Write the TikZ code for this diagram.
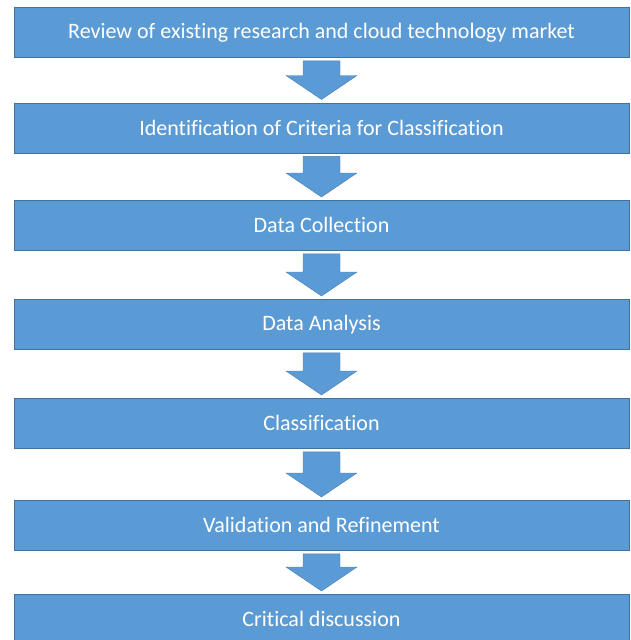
\documentclass[tikz,border=0pt]{standalone}
\usepackage{fontspec}
\setmainfont[Ligatures={NoCommon}]{Carlito}
\usetikzlibrary{calc}
\definecolor{boxblue}{HTML}{5B9BD5}
\definecolor{boxedge}{HTML}{41719C}
\tikzset{
  stepbox/.style={draw=boxedge, line width=0.8pt, fill=boxblue, text=white,
    minimum width=615pt, minimum height=50pt, inner sep=0pt, anchor=north,
    font=\fontsize{22}{25}\selectfont},
  flowarrow/.style={fill=boxblue, draw=boxedge!70!boxblue, line width=0.4pt, line join=miter}
}
\newcommand{\flowconn}[2]{%
  \draw[flowarrow] ($(#1.south)+(-18.5,-3)$) -- ($(#2.north)+(-18.5,27)$)
    -- ($(#2.north)+(-35.5,27)$) -- ($(#2.north)+(0,3)$)
    -- ($(#2.north)+(35.5,27)$) -- ($(#2.north)+(18.5,27)$)
    -- ($(#1.south)+(18.5,-3)$) -- cycle;}
\begin{document}
\begin{tikzpicture}[x=1pt,y=1pt]
\useasboundingbox (0,0) rectangle (630,-640);
\clip (0,0) rectangle (630,-640);
\node[stepbox] (s1) at (321.5,-7) {Review of existing research and cloud technology market};
\node[stepbox] (s2) at (321.5,-102.5) {Identification of Criteria for Classification};
\node[stepbox] (s3) at (321.5,-200) {Data Collection};
\node[stepbox] (s4) at (321.5,-299) {Data Analysis};
\node[stepbox] (s5) at (321.5,-398) {Classification};
\node[stepbox] (s6) at (321.5,-500) {Validation and Refinement};
\node[stepbox] (s7) at (321.5,-594) {Critical discussion};
\flowconn{s1}{s2}
\flowconn{s2}{s3}
\flowconn{s3}{s4}
\flowconn{s4}{s5}
\flowconn{s5}{s6}
\flowconn{s6}{s7}
\end{tikzpicture}
\end{document}
